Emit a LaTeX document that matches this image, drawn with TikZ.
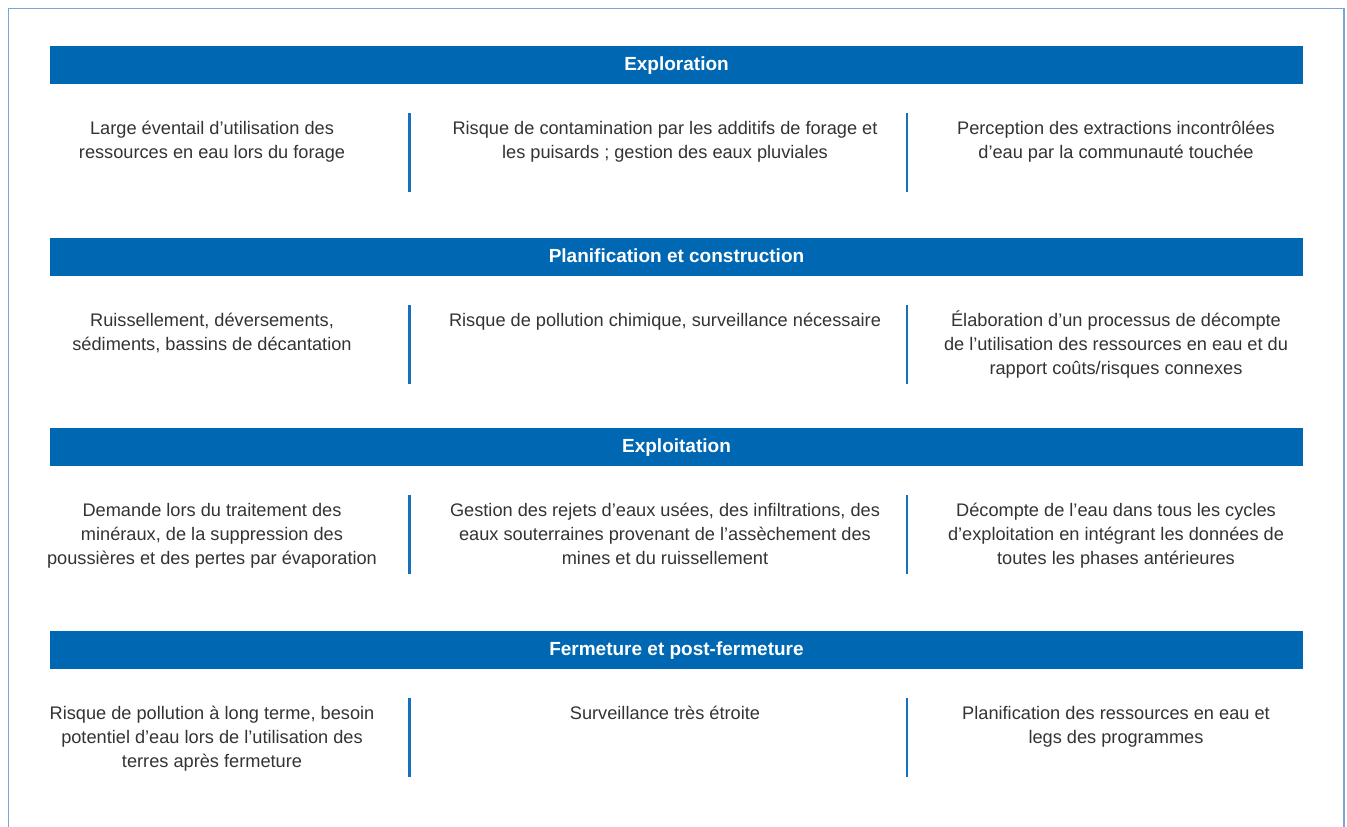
\documentclass[tikz,border=0pt]{standalone}
\usepackage{fontspec}
\setmainfont{Liberation Sans}
\definecolor{barblue}{HTML}{0068B3}
\definecolor{sepblue}{HTML}{1570BD}
\definecolor{frameblue}{HTML}{7AA6D6}
\definecolor{txt}{HTML}{333333}
\tikzset{
  bar/.style={fill=barblue, draw=none},
  bartitle/.style={anchor=base, text=white, inner sep=0pt, font=\fontsize{19}{24}\selectfont\bfseries},
  cell/.style={anchor=north, align=center, inner sep=0pt, text=txt, font=\fontsize{18.2}{24}\selectfont},
  sepline/.style={draw=sepblue, line width=2.4pt},
}
\newcommand{\fl}{\rule{0pt}{18pt}}
\begin{document}
\begin{tikzpicture}[x=1pt,y=-1pt]
\useasboundingbox (0,0) rectangle (1347,827);
\draw[frameblue, line width=1.2pt] (8.5,8.5) rectangle (1344,845);
% bars
\foreach \t in {46,238,428,631}{
  \fill[barblue] (50,\t) rectangle (1303,\t+38);
}
\node[bartitle] (t1) at (676.5,70) {Exploration};
\node[bartitle] (t2) at (676.5,262) {Planification et construction};
\node[bartitle] (t3) at (676.5,452) {Exploitation};
\node[bartitle] (t4) at (676.5,655) {Fermeture et post-fermeture};
% separators
\foreach \s in {113,305,495,698}{
  \draw[sepline] (409.5,\s) -- (409.5,\s+79);
  \draw[sepline] (907,\s) -- (907,\s+79);
}
% row 1
\node[cell] (r1a) at (212,116) {\fl Large éventail d’utilisation des\\ressources en eau lors du forage};
\node[cell] (r1b) at (665,116) {\fl Risque de contamination par les additifs de forage et\\les puisards ; gestion des eaux pluviales};
\node[cell] (r1c) at (1116,116) {\fl Perception des extractions incontrôlées\\d’eau par la communauté touchée};
% row 2
\node[cell] (r2a) at (212,308) {\fl Ruissellement, déversements,\\sédiments, bassins de décantation};
\node[cell] (r2b) at (665,308) {\fl Risque de pollution chimique, surveillance nécessaire};
\node[cell] (r2c) at (1116,308) {\fl Élaboration d’un processus de décompte\\de l’utilisation des ressources en eau et du\\rapport coûts/risques connexes};
% row 3
\node[cell] (r3a) at (212,498) {\fl Demande lors du traitement des\\minéraux, de la suppression des\\poussières et des pertes par évaporation};
\node[cell] (r3b) at (665,498) {\fl Gestion des rejets d’eaux usées, des infiltrations, des\\eaux souterraines provenant de l’assèchement des\\mines et du ruissellement};
\node[cell] (r3c) at (1116,498) {\fl Décompte de l’eau dans tous les cycles\\d’exploitation en intégrant les données de\\toutes les phases antérieures};
% row 4
\node[cell] (r4a) at (212,701) {\fl Risque de pollution à long terme, besoin\\potentiel d’eau lors de l’utilisation des\\terres après fermeture};
\node[cell] (r4b) at (665,701) {\fl Surveillance très étroite};
\node[cell] (r4c) at (1116,701) {\fl Planification des ressources en eau et\\legs des programmes};
\end{tikzpicture}
\end{document}
